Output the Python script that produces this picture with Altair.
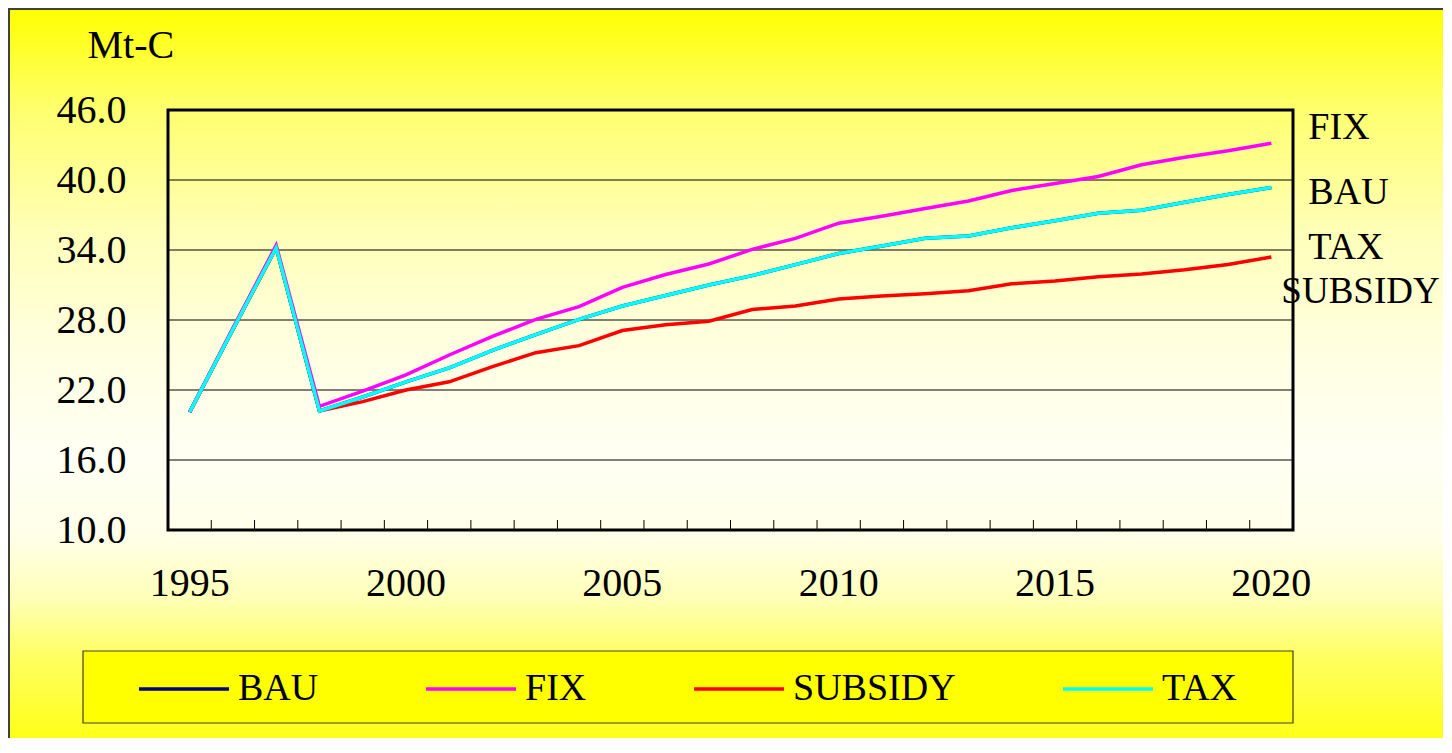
import altair as alt
import pandas as pd

years = list(range(1995, 2021))
bau = [20.1, 27.2, 34.2, 20.2, 21.4, 22.7, 23.9, 25.4, 26.75, 28.05, 29.2, 30.1, 31.0, 31.8,
       32.75, 33.7, 34.35, 35.0, 35.2, 35.9, 36.5, 37.15, 37.4, 38.1, 38.75, 39.35]
fix = [20.1, 27.3, 34.4, 20.6, 21.9, 23.3, 25.0, 26.6, 28.05, 29.15, 30.8, 31.9, 32.8, 34.05,
       35.0, 36.3, 36.9, 37.55, 38.2, 39.1, 39.7, 40.3, 41.3, 41.95, 42.5, 43.15]
subsidy = [20.1, 27.2, 34.2, 20.2, 21.0, 22.0, 22.7, 24.0, 25.2, 25.8, 27.1, 27.6, 27.9, 28.9,
           29.2, 29.8, 30.05, 30.25, 30.5, 31.1, 31.35, 31.7, 31.95, 32.3, 32.75, 33.4]
tax = [20.1, 27.2, 34.2, 20.2, 21.4, 22.7, 23.9, 25.4, 26.75, 28.05, 29.2, 30.1, 31.0, 31.8,
       32.75, 33.7, 34.35, 35.0, 35.2, 35.9, 36.5, 37.15, 37.4, 38.1, 38.75, 39.35]

series_names = ["BAU", "FIX", "SUBSIDY", "TAX"]
series_colors = ["#000080", "#FF00FF", "#FF0000", "#00FFFF"]
y_ticks = [10, 16, 22, 28, 34, 40, 46]
x_label_years = [1995, 2000, 2005, 2010, 2015, 2020]

end_labels = ["FIX", "BAU", "TAX"]
end_label_y = [44.5, 38.85, 34.15]
end_label2 = ["SUBSIDY"]
end_label2_y = [30.4]

W, H = 1125, 420
FONT = "Liberation Serif"

rows = []
for name, vals in zip(series_names, [bau, fix, subsidy, tax]):
    for yr, v in zip(years, vals):
        rows.append({"year": yr, "series": name, "value": v})
df = pd.DataFrame(rows)

xscale = alt.Scale(type="band", paddingInner=0, paddingOuter=0)
yscale = alt.Scale(domain=[10, 46], nice=False, zero=False)

one = pd.DataFrame({"a": [0]})

grad = alt.LinearGradient(
    gradient="linear", x1=0, x2=0, y1=0, y2=1,
    stops=[
        alt.GradientStop(color="#FFFF00", offset=0),
        alt.GradientStop(color="#FFFF70", offset=0.134),
        alt.GradientStop(color="#FFFFB8", offset=0.294),
        alt.GradientStop(color="#FFFFE0", offset=0.44),
        alt.GradientStop(color="#FFFFF4", offset=0.587),
        alt.GradientStop(color="#FFFFE8", offset=0.694),
        alt.GradientStop(color="#FFFFB8", offset=0.774),
        alt.GradientStop(color="#FFFF60", offset=0.853),
        alt.GradientStop(color="#FFFF20", offset=0.947),
        alt.GradientStop(color="#FFFF00", offset=1),
    ],
)

bg = alt.Chart(one).mark_rect(fill=grad, stroke="#404040", strokeWidth=2).encode(
    x=alt.value(-159), x2=alt.value(W + 170), y=alt.value(-101), y2=alt.value(H + 240)
)

legend_box = alt.Chart(one).mark_rect(fill="#FFFF00", stroke="#404030", strokeWidth=1.2).encode(
    x=alt.value(-85), x2=alt.value(W), y=alt.value(541), y2=alt.value(613)
)

grid = alt.Chart(pd.DataFrame({"v": y_ticks[1:-1]})).mark_rule(color="black", strokeWidth=1).encode(
    y=alt.Y("v:Q", scale=yscale)
)

xticks = alt.Chart(pd.DataFrame({"year": years[1:]})).mark_rule(color="black", strokeWidth=1).encode(
    x=alt.X("year:O", scale=xscale, bandPosition=0),
    y=alt.value(H),
    y2=alt.value(H - 10),
)

lines = alt.Chart(df).mark_line(strokeWidth=3.5).encode(
    x=alt.X("year:O", scale=xscale,
            axis=alt.Axis(values=x_label_years, labelAngle=0, ticks=False, domain=False,
                          grid=False, labelFont=FONT, labelFontSize=40, labelColor="black",
                          labelPadding=53, bandPosition=0.5, labelAlign="center",
                          title=None, zindex=1)),
    y=alt.Y("value:Q", scale=yscale,
            axis=alt.Axis(values=y_ticks, format=".1f", ticks=False, domain=False, grid=False,
                          labelFont=FONT, labelFontSize=40, labelColor="black", labelPadding=42,
                          title="Mt-C", titleAngle=0, titleAlign="left", titleBaseline="alphabetic",
                          titleX=-81, titleY=-53, titleFont=FONT, titleFontSize=40,
                          titleFontWeight="normal", titleColor="black", zindex=1)),
    color=alt.Color("series:N",
                    scale=alt.Scale(domain=series_names, range=series_colors),
                    legend=alt.Legend(orient="none", legendX=-31, legendY=532, direction="horizontal",
                                      columns=4, symbolType="stroke", symbolSize=8100,
                                      symbolStrokeWidth=3.5, labelFont=FONT, labelFontSize=38,
                                      labelColor="black", labelOffset=7, columnPadding=100,
                                      labelLimit=400, padding=0, title=None)),
    order=alt.Order("series:N"),
)

border = alt.Chart(one).mark_rect(fill=None, stroke="black", strokeWidth=3).encode(
    x=alt.value(0), x2=alt.value(W), y=alt.value(0), y2=alt.value(H)
)

lab1 = alt.Chart(pd.DataFrame({"t": end_labels, "v": end_label_y, "year": [2020] * 3})).mark_text(
    align="left", baseline="middle", dx=37, font=FONT, fontSize=38, color="black"
).encode(x=alt.X("year:O", scale=xscale), y=alt.Y("v:Q", scale=yscale), text="t:N")

lab2 = alt.Chart(pd.DataFrame({"t": end_label2, "v": end_label2_y, "year": [2020]})).mark_text(
    align="left", baseline="middle", dx=10, font=FONT, fontSize=37, color="black"
).encode(x=alt.X("year:O", scale=xscale), y=alt.Y("v:Q", scale=yscale), text="t:N")

chart = alt.layer(bg, legend_box, grid, xticks, lines, border, lab1, lab2).properties(
    width=W, height=H,
    autosize=alt.AutoSizeParams(type="none"),
    padding={"left": 160, "top": 102, "right": 150, "bottom": 208},
    background="#FFFFE0",
).configure_view(stroke=None)

chart.save("out.html", embed_options={"renderer": "svg", "actions": False})
